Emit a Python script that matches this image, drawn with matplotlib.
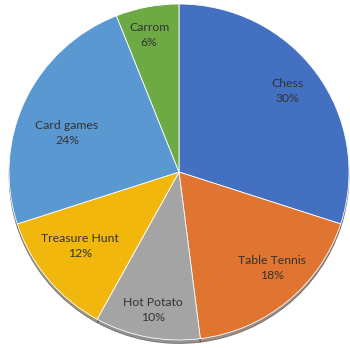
import matplotlib.pyplot as plt

labels = ["Chess", "Table Tennis", "Hot Potato", "Treasure Hunt", "Card games", "Carrom"]
values = [30, 18, 10, 12, 24, 6]
colors = ["#4370C0", "#DF7530", "#A4A4A4", "#F2B70C", "#5A98D2", "#6EAA44"]

# label centres (pixels)
label_px = [(287, 91), (272, 268), (153, 310), (80, 246), (67, 133), (149, 35)]

fig = plt.figure(figsize=(3.5, 3.48), dpi=100)
cx, cy, rx, ry = 179, 172, 170, 168
ax = fig.add_axes([(cx - rx) / 350, 1 - (cy + ry) / 348, 2 * rx / 350, 2 * ry / 348])

texts = [f"{l}\n{v}%" for l, v in zip(labels, values)]
wedges, txt = ax.pie(values, labels=texts, colors=colors, startangle=90,
                     counterclock=False, labeldistance=0.79,
                     shadow=dict(ox=0.0, oy=-0.015, shade=0.75),
                     wedgeprops=dict(linewidth=0.6, edgecolor="white"),
                     textprops=dict(color="#333333", fontsize=8.8, family="Lato",
                                    ha="center", va="center", linespacing=1.45))
for t, (px, py) in zip(txt, label_px):
    t.set_position(((px - cx) / rx, (cy - py) / ry))
ax.set_xlim(-1, 1)
ax.set_ylim(-1, 1)
ax.set_aspect("auto")

plt.savefig("out.png", dpi=100)
